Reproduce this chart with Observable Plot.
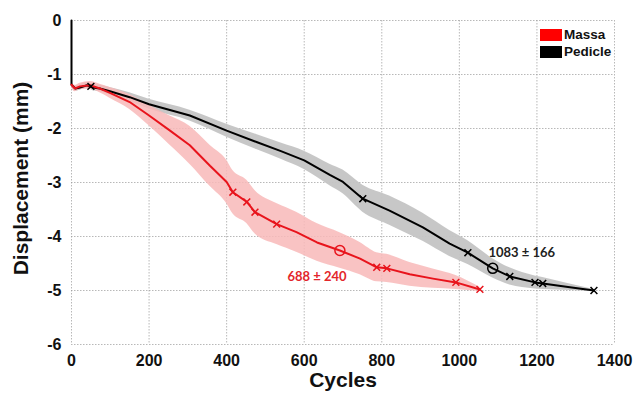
<!DOCTYPE html>
<html>
<head>
<meta charset="utf-8">
<script src="https://cdn.jsdelivr.net/npm/d3@7"></script>
<script src="https://cdn.jsdelivr.net/npm/@observablehq/plot@0.6"></script>
<style>
  html, body { margin: 0; padding: 0; background: #fff; }
  #wrap { position: relative; width: 634px; height: 400px; font-family: "Liberation Sans", Arial, sans-serif; }
  #legend { position: absolute; left: 540px; top: 26px; font-weight: bold; font-size: 13.5px; color: #111; line-height: 17px; }
  #legend .row { display: flex; align-items: center; height: 17px; }
  #legend .sw { width: 22px; height: 12px; margin-right: 2px; }
</style>
</head>
<body>
<div id="wrap">
  <div id="chart"></div>
  <div id="legend"></div>
</div>
<script>
// ---- data ----
const seriesNames = ["Massa", "Pedicle"];
const seriesColors = ["#e8141c", "#000000"];
const bandColors = ["#f8b9b9", "#c4c4c4"];

// Massa (red) mean curve
const massaCycles = [0, 9, 22, 48, 73, 99, 150, 200, 254, 305, 357, 400, 416, 452, 473, 529, 580, 633, 692, 744, 787, 813, 872, 932, 991, 1053];
const massaDisp   = [-1.19, -1.26, -1.22, -1.2, -1.26, -1.34, -1.51, -1.76, -2.04, -2.31, -2.69, -2.99, -3.18, -3.36, -3.55, -3.77, -3.92, -4.11, -4.26, -4.41, -4.57, -4.59, -4.70, -4.78, -4.85, -4.98];
const massaSD     = [0.05, 0.06, 0.06, 0.07, 0.08, 0.1, 0.14, 0.19, 0.27, 0.35, 0.38, 0.4, 0.4, 0.4, 0.4, 0.38, 0.37, 0.35, 0.33, 0.3, 0.27, 0.26, 0.22, 0.18, 0.13, 0.04];

// Pedicle (black) mean curve
const pedicleCycles = [0, 0, 10, 22, 40, 55, 73, 99, 150, 200, 305, 400, 477, 540, 600, 666, 700, 751, 820, 906, 975, 1022, 1086, 1130, 1195, 1215, 1285, 1347];
const pedicleDisp   = [0, -1.19, -1.26, -1.24, -1.2, -1.24, -1.26, -1.31, -1.42, -1.55, -1.76, -2.04, -2.25, -2.42, -2.59, -2.86, -2.99, -3.30, -3.52, -3.83, -4.13, -4.30, -4.59, -4.74, -4.85, -4.87, -4.94, -5.0];
const pedicleSD     = [0, 0.04, 0.05, 0.05, 0.05, 0.06, 0.06, 0.07, 0.08, 0.09, 0.1, 0.12, 0.14, 0.15, 0.17, 0.2, 0.22, 0.25, 0.27, 0.26, 0.24, 0.22, 0.18, 0.16, 0.12, 0.11, 0.06, 0.02];

// failure markers (x)
const massaFailCycles = [416, 452, 473, 529, 787, 813, 991, 1053];
const massaFailDisp   = [-3.18, -3.36, -3.55, -3.77, -4.57, -4.59, -4.85, -4.98];
const pedicleFailCycles = [50, 751, 1022, 1130, 1195, 1215, 1347];
const pedicleFailDisp   = [-1.22, -3.30, -4.30, -4.74, -4.85, -4.87, -5.0];

// mean failure (circles) and labels
const meanCycles = [692, 1086];
const meanDisp   = [-4.26, -4.59];
const meanLabels = ["688 ± 240", "1083 ± 166"];
const labelCycles = [633, 1161];
const labelDisp   = [-4.74, -4.30];

const xTicks = [0, 200, 400, 600, 800, 1000, 1200, 1400];
const yTicks = [0, -1, -2, -3, -4, -5, -6];

// ---- build tables ----
const massa = massaCycles.map((c, i) => ({c, d: massaDisp[i], lo: massaDisp[i] - massaSD[i], hi: massaDisp[i] + massaSD[i]}));
const pedicle = pedicleCycles.map((c, i) => ({c, d: pedicleDisp[i], lo: pedicleDisp[i] - pedicleSD[i], hi: pedicleDisp[i] + pedicleSD[i]}));
const massaFail = massaFailCycles.map((c, i) => ({c, d: massaFailDisp[i]}));
const pedicleFail = pedicleFailCycles.map((c, i) => ({c, d: pedicleFailDisp[i]}));
const means = meanCycles.map((c, i) => ({c, d: meanDisp[i], color: seriesColors[i]}));
const labels = meanLabels.map((t, i) => ({t, c: labelCycles[i], d: labelDisp[i], color: i === 0 ? "#e3262b" : "#222"}));

const gridStyle = {stroke: "#9a9a9a", strokeOpacity: 0.7, strokeDasharray: "1.5,1.5", strokeWidth: 1};

const chart = Plot.plot({
  width: 634,
  height: 400,
  marginLeft: 71,
  marginRight: 20,
  marginTop: 20,
  marginBottom: 56,
  style: {fontFamily: "'Liberation Sans', Arial, sans-serif", background: "white"},
  x: {domain: [0, 1400]},
  y: {domain: [-6, 0]},
  marks: [
    Plot.ruleX(xTicks, gridStyle),
    Plot.ruleY(yTicks, gridStyle),
    Plot.areaY(pedicle, {x: "c", y1: "lo", y2: "hi", fill: bandColors[1], fillOpacity: 0.95, curve: "monotone-x"}),
    Plot.areaY(massa, {x: "c", y1: "lo", y2: "hi", fill: bandColors[0], fillOpacity: 0.85, curve: "monotone-x"}),
    Plot.line(pedicle, {x: "c", y: "d", stroke: seriesColors[1], strokeWidth: 2}),
    Plot.line(massa, {x: "c", y: "d", stroke: seriesColors[0], strokeWidth: 2}),
    Plot.dot(pedicleFail, {x: "c", y: "d", symbol: "times", r: 3.2, stroke: seriesColors[1], strokeWidth: 1.5}),
    Plot.dot(massaFail, {x: "c", y: "d", symbol: "times", r: 3.2, stroke: seriesColors[0], strokeWidth: 1.5}),
    Plot.dot(means, {x: "c", y: "d", r: 5, stroke: "color", strokeWidth: 1.5, fill: "none"}),
    Plot.text(labels, {x: "c", y: "d", text: "t", fill: "color", fontSize: 13, fontWeight: "bold", fontFamily: "Lato, 'Open Sans', sans-serif"}),
    Plot.axisX(xTicks, {tickSize: 0, tickPadding: 10, fontSize: 16, fontWeight: "bold", label: null, tickFormat: d => String(d), fill: "#111"}),
    Plot.axisY(yTicks, {tickSize: 0, tickPadding: 10, fontSize: 16, fontWeight: "bold", label: null, tickFormat: d => String(d), fill: "#111"}),
    Plot.text(["Displacement (mm)"], {frameAnchor: "left", dx: -50, dy: -4, rotate: -90, textAnchor: "middle", text: d => d, fontSize: 21, fontWeight: "bold", fill: "#111"}),
    Plot.text(["Cycles"], {frameAnchor: "bottom", dy: 42, textAnchor: "middle", text: d => d, fontSize: 21, fontWeight: "bold", fill: "#111"})
  ]
});
document.getElementById("chart").appendChild(chart);

// legend overlay
const legend = document.getElementById("legend");
seriesNames.forEach((name, i) => {
  const row = document.createElement("div");
  row.className = "row";
  const sw = document.createElement("span");
  sw.className = "sw";
  sw.style.background = i === 0 ? "#ff0000" : "#000";
  const t = document.createElement("span");
  t.textContent = name;
  row.appendChild(sw);
  row.appendChild(t);
  legend.appendChild(row);
});
</script>
</body>
</html>
